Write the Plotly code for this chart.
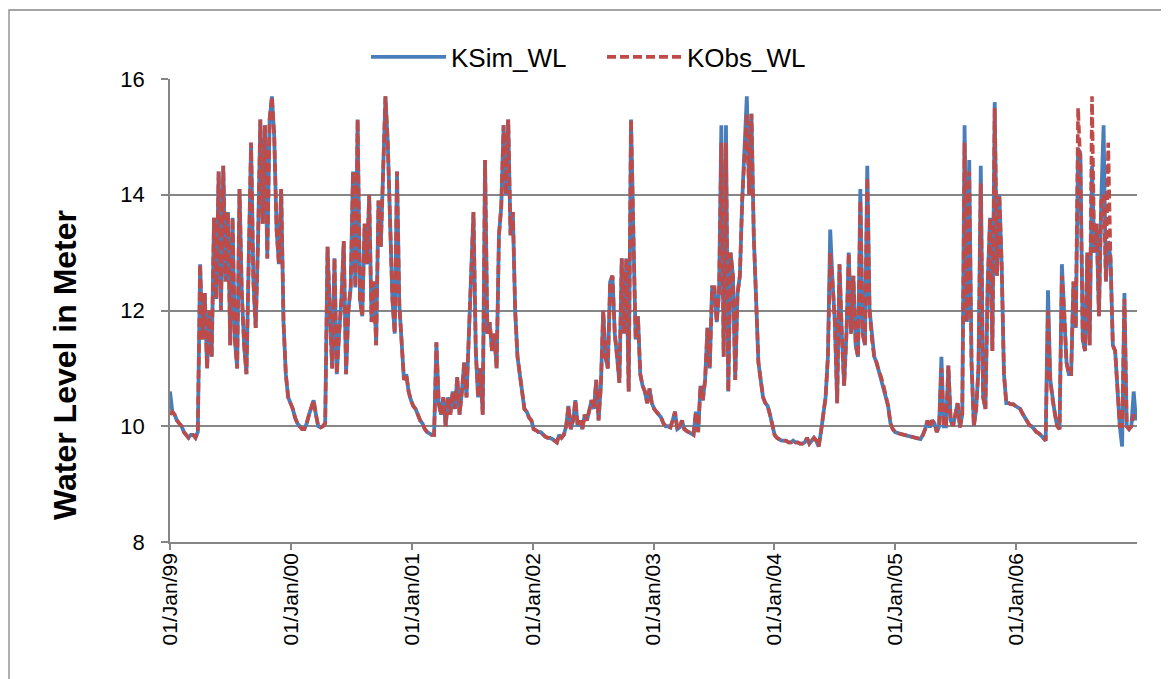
import pandas as pd
import plotly.graph_objects as go

# Weekly readings (values in metres)
sim_1999 = [10.6, 10.25, 10.2, 10.1, 10.05, 10.0, 9.9, 9.85, 9.8, 9.85, 9.85, 9.8, 9.9, 12.8, 11.5, 12.3, 11.0, 12.0, 11.2, 13.6,
            12.2, 14.4, 12.0, 14.5, 12.5, 13.7, 11.4, 13.6, 11.5, 11.0, 14.1, 12.3, 11.4, 10.9, 13.0, 14.9, 12.5, 11.7, 13.2, 15.3,
            13.5, 15.2, 12.9, 15.3, 15.7, 15.0, 13.4, 12.8, 14.1, 11.8, 10.9, 10.5]
sim_2000 = [10.4, 10.3, 10.15, 10.05, 10.0, 9.95, 9.95, 10.05, 10.2, 10.35, 10.45, 10.2, 10.0, 9.98, 10.0, 10.05,
            13.1, 12.0, 11.0, 12.9, 10.9, 11.6, 12.2, 13.2, 10.9, 12.0, 12.4, 14.4, 12.4, 15.3, 12.2, 11.9, 13.5, 12.8, 14.0, 11.8,
            12.5, 11.4, 13.9, 13.1, 14.7, 15.7, 14.9, 13.5, 12.2, 11.6, 14.4, 12.1, 11.3, 10.8, 10.9, 10.6]
sim_2001 = [10.45, 10.35, 10.3, 10.2, 10.1, 10.05, 9.95, 9.9, 9.87, 9.85, 9.85, 11.45, 10.4, 10.2, 10.5, 10.0, 10.5, 10.2, 10.6, 10.3,
            10.85, 10.2, 10.6, 11.1, 10.5, 11.6, 12.4, 13.7, 11.3, 10.5, 11.0, 10.2, 14.6, 11.6, 11.8, 11.3, 11.6, 11.0, 13.3, 13.8,
            15.2, 14.0, 15.3, 13.3, 13.7, 12.0, 11.2, 10.9, 10.5, 10.3, 10.25, 10.15, 10.1]
sim_2002 = [9.95, 9.93, 9.9, 9.9, 9.85, 9.82, 9.8, 9.8, 9.78, 9.75, 9.72, 9.85, 9.8, 9.85, 10.0, 10.35, 9.95, 10.1, 10.45, 10.0,
            10.1, 9.95, 10.2, 10.1, 10.3, 10.45, 10.3, 10.8, 10.1, 10.7, 12.0, 11.2, 11.0, 12.5, 12.6, 11.6, 11.2, 10.75, 12.9, 11.6,
            12.9, 10.6, 15.3, 13.5, 11.5, 11.9, 10.9, 10.7, 10.6, 10.4, 10.65, 10.4]
sim_2003 = [10.3, 10.25, 10.2, 10.15, 10.05, 10.0, 10.0, 9.98, 10.1, 10.25, 9.95, 9.98, 10.1, 9.95, 9.92, 9.9, 9.88, 9.85, 10.25, 9.9,
            10.7, 10.45, 10.8, 11.7, 11.0, 12.4, 12.4, 11.8, 12.3, 15.2, 11.2, 15.2, 10.6, 13.0, 12.6, 10.8, 12.3, 12.6, 13.9, 14.9,
            15.7, 14.0, 15.4, 13.3, 12.0, 11.1, 10.8, 10.5, 10.4, 10.35, 10.2, 10.0]
sim_2004 = [9.85, 9.8, 9.78, 9.75, 9.75, 9.75, 9.72, 9.72, 9.75, 9.72, 9.72, 9.7, 9.7, 9.72, 9.8, 9.7, 9.75, 9.8, 9.75, 9.65,
            9.9, 10.2, 10.5, 11.2, 13.4, 12.5, 11.8, 10.4, 12.8, 11.6, 10.7, 11.6, 13.0, 11.6, 12.6, 11.4, 11.2, 14.1, 11.6, 11.4,
            14.5, 12.0, 11.5, 11.2, 11.1, 10.95, 10.85, 10.7, 10.55, 10.35, 10.05, 9.95]
sim_2005 = [9.9, 9.88, 9.87, 9.86, 9.85, 9.84, 9.83, 9.82, 9.82, 9.81, 9.8, 9.78, 9.85, 9.95, 10.1, 9.98, 10.1, 10.05, 9.9, 10.0,
            11.2, 10.0, 10.0, 11.05, 10.1, 10.0, 10.2, 10.4, 9.98, 10.2, 15.2, 11.8, 14.6, 11.1, 10.0, 10.3, 11.0, 14.5, 10.5, 10.3,
            12.5, 13.6, 11.3, 15.6, 12.6, 14.0, 12.8, 10.9, 10.4, 10.4, 10.38, 10.38]
sim_2006 = [10.35, 10.33, 10.3, 10.22, 10.15, 10.1, 10.02, 10.0, 9.95, 9.9, 9.88, 9.85, 9.8, 9.75, 12.35, 10.8, 10.45, 10.2, 10.0, 9.95,
            12.8, 12.0, 11.1, 10.9, 10.9, 12.5, 11.7, 14.8, 14.7, 11.5, 11.3, 13.0, 11.4, 14.5, 13.0, 13.5, 11.9, 13.9, 15.2, 12.5,
            13.2, 12.9, 11.4, 11.3, 10.5, 10.0, 9.65, 12.3, 10.0, 9.95, 10.0, 10.6, 10.1]

obs_1999 = [10.2, 10.25, 10.2, 10.1, 10.05, 10.0, 9.9, 9.85, 9.8, 9.85, 9.85, 9.8, 9.9, 12.8, 11.5, 12.3, 11.0, 12.0, 11.2, 13.6,
            12.2, 14.4, 12.0, 14.5, 12.5, 13.7, 11.4, 13.6, 11.5, 11.0, 14.1, 12.3, 11.4, 10.9, 13.0, 14.9, 12.5, 11.7, 13.2, 15.3,
            13.5, 15.2, 12.9, 15.3, 15.7, 15.0, 13.4, 12.8, 14.1, 11.8, 10.9, 10.5]
obs_2000 = [10.4, 10.3, 10.15, 10.05, 10.0, 9.95, 9.95, 10.05, 10.2, 10.35, 10.45, 10.2, 10.0, 9.98, 10.0, 10.05,
            13.1, 12.0, 11.0, 12.9, 10.9, 11.6, 12.2, 13.2, 10.9, 12.0, 12.4, 14.4, 12.4, 15.3, 12.2, 11.9, 13.5, 12.8, 14.0, 11.8,
            12.5, 11.4, 13.9, 13.1, 14.7, 15.7, 14.9, 13.5, 12.2, 11.6, 14.4, 12.1, 11.3, 10.8, 10.9, 10.6]
obs_2001 = [10.45, 10.35, 10.3, 10.2, 10.1, 10.05, 9.95, 9.9, 9.87, 9.85, 9.85, 11.45, 10.4, 10.2, 10.5, 10.0, 10.5, 10.2, 10.6, 10.3,
            10.85, 10.2, 10.6, 11.1, 10.5, 11.6, 12.4, 13.7, 11.3, 10.5, 11.0, 10.2, 14.6, 11.6, 11.8, 11.3, 11.6, 11.0, 13.3, 13.8,
            15.2, 14.0, 15.3, 13.3, 13.7, 12.0, 11.2, 10.9, 10.5, 10.3, 10.25, 10.15, 10.1]
obs_2002 = [9.95, 9.93, 9.9, 9.9, 9.85, 9.82, 9.8, 9.8, 9.78, 9.75, 9.72, 9.85, 9.8, 9.85, 10.0, 10.35, 9.95, 10.1, 10.45, 10.0,
            10.1, 9.95, 10.2, 10.1, 10.3, 10.45, 10.3, 10.8, 10.1, 10.7, 12.0, 11.2, 11.0, 12.5, 12.6, 11.6, 11.2, 10.75, 12.9, 11.6,
            12.9, 10.6, 15.3, 13.5, 11.5, 11.9, 10.9, 10.7, 10.6, 10.4, 10.65, 10.4]
obs_2003 = [10.3, 10.25, 10.2, 10.15, 10.05, 10.0, 10.0, 9.98, 10.1, 10.25, 9.95, 9.98, 10.1, 9.95, 9.92, 9.9, 9.88, 9.85, 10.25, 9.9,
            10.7, 10.45, 10.8, 11.7, 11.0, 12.4, 12.4, 11.8, 12.3, 14.9, 11.2, 14.9, 10.6, 13.0, 12.6, 10.8, 12.3, 12.6, 13.9, 14.7,
            15.4, 14.0, 15.4, 13.3, 12.0, 11.1, 10.8, 10.5, 10.4, 10.35, 10.2, 10.0]
obs_2004 = [9.85, 9.8, 9.78, 9.75, 9.75, 9.75, 9.72, 9.72, 9.75, 9.72, 9.72, 9.7, 9.7, 9.72, 9.8, 9.7, 9.75, 9.8, 9.75, 9.65,
            9.9, 10.2, 10.5, 11.2, 13.0, 12.5, 11.8, 10.4, 12.8, 11.6, 10.7, 11.6, 13.0, 11.6, 12.6, 11.4, 11.2, 13.9, 11.6, 11.4,
            14.3, 12.0, 11.5, 11.2, 11.1, 10.95, 10.85, 10.7, 10.55, 10.35, 10.05, 9.95]
obs_2005 = [9.9, 9.88, 9.87, 9.86, 9.85, 9.84, 9.83, 9.82, 9.82, 9.81, 9.8, 9.78, 9.85, 9.95, 10.1, 9.98, 10.1, 10.05, 9.9, 10.0,
            11.0, 10.0, 10.0, 11.05, 10.1, 10.0, 10.2, 10.4, 9.98, 10.2, 14.9, 11.8, 14.4, 11.1, 10.0, 10.3, 11.0, 14.2, 10.5, 10.3,
            12.5, 13.6, 11.3, 15.5, 12.6, 14.0, 12.8, 10.9, 10.4, 10.4, 10.38, 10.38]
obs_2006 = [10.35, 10.33, 10.3, 10.22, 10.15, 10.1, 10.02, 10.0, 9.95, 9.9, 9.88, 9.85, 9.8, 9.75, 12.0, 10.8, 10.45, 10.2, 10.0, 9.95,
            12.6, 12.0, 11.1, 10.9, 10.9, 12.5, 11.7, 15.5, 14.5, 11.5, 11.3, 13.0, 11.4, 15.7, 13.0, 13.5, 11.9, 13.9, 14.0, 12.5,
            14.9, 12.9, 11.4, 11.3, 10.5, 10.0, 10.0, 12.2, 10.0, 9.95, 10.0, 10.2, 10.1]

tick_dates = ["1999-01-01", "2000-01-01", "2001-01-01", "2002-01-01",
              "2003-01-01", "2004-01-01", "2005-01-01", "2006-01-01"]
tick_labels = ["01/Jan/99", "01/Jan/00", "01/Jan/01", "01/Jan/02",
               "01/Jan/03", "01/Jan/04", "01/Jan/05", "01/Jan/06"]

sim = sim_1999 + sim_2000 + sim_2001 + sim_2002 + sim_2003 + sim_2004 + sim_2005 + sim_2006
obs = obs_1999 + obs_2000 + obs_2001 + obs_2002 + obs_2003 + obs_2004 + obs_2005 + obs_2006

start = pd.Timestamp("1999-01-01")
dates_sim = pd.date_range(start, periods=len(sim), freq="7D")
dates_obs = pd.date_range(start, periods=len(obs), freq="7D")

GRID = "#868686"
FONT = "Liberation Sans, Arial, sans-serif"

fig = go.Figure()
fig.add_trace(go.Scatter(x=dates_sim, y=sim, mode="lines", name="KSim_WL",
                         line=dict(color="#4A7EBB", width=3.8)))
fig.add_trace(go.Scatter(x=dates_obs, y=obs, mode="lines", name="KObs_WL",
                         line=dict(color="#BE4B48", width=3.6, dash="9px,4px")))

# the page body has an 8px default margin, so the figure is 8px smaller
fig.update_layout(
    width=1161, height=671,
    margin=dict(l=162, r=32, t=71, b=137, autoexpand=False),
    paper_bgcolor="white", plot_bgcolor="white",
    font=dict(family=FONT, color="black"),
    showlegend=True,
    legend=dict(orientation="h", x=(366 - 170) / 967, xanchor="left",
                y=(542 - 57) / 463, yanchor="middle",
                font=dict(size=26, family=FONT), itemwidth=75,
                entrywidth=146, entrywidthmode="pixels", bgcolor="rgba(0,0,0,0)"),
    xaxis=dict(type="date", range=["1999-01-01", "2007-01-01"],
               tickmode="array", tickvals=tick_dates, ticktext=tick_labels,
               tickangle=-90, tickfont=dict(size=21, family=FONT), ticklabelstandoff=-5,
               showgrid=False, showline=True, linecolor=GRID, linewidth=1.5,
               ticks="outside", ticklen=6, tickcolor=GRID, tickwidth=1.5),
    yaxis=dict(range=[8, 16], dtick=2, tick0=8,
               showgrid=True, gridcolor=GRID, gridwidth=1.5, zeroline=False,
               showline=True, linecolor=GRID, linewidth=1.5,
               ticks="outside", ticklen=7, tickcolor=GRID, tickwidth=1.5,
               tickfont=dict(size=22, family=FONT), ticklabelstandoff=12),
    annotations=[dict(text="<b>Water Level in Meter</b>", xref="paper", yref="paper",
                      x=(65 - 170) / 967, y=(542 - 365) / 463, textangle=-90,
                      showarrow=False, font=dict(size=32, family=FONT),
                      xanchor="center", yanchor="middle")],
    shapes=[dict(type="rect", xref="paper", yref="paper",
                 x0=(9 - 170) / 967, x1=1.06, y0=-0.36, y1=(542 - 10) / 463,
                 line=dict(color=GRID, width=1.3), fillcolor="rgba(0,0,0,0)", layer="below")],
)

fig.write_html("out.html")
